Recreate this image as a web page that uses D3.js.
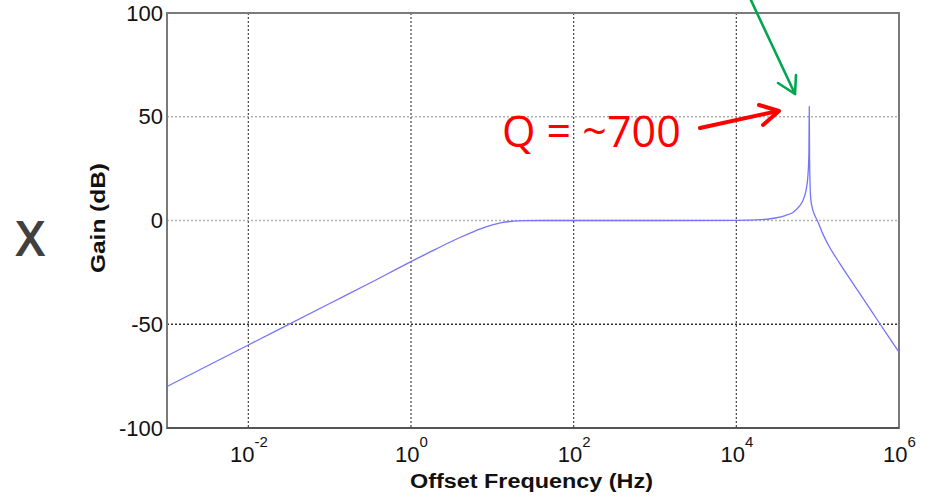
<!DOCTYPE html>
<html>
<head>
<meta charset="utf-8">
<script src="https://cdn.jsdelivr.net/npm/d3@7"></script>
<style>
  html, body { margin: 0; padding: 0; background: #fff; }
  svg { display: block; }
</style>
</head>
<body>
<svg id="chart" width="930" height="498"></svg>
<script>
// Frequency response: offset frequency (Hz) and gain (dB)
const freqHz = [
  1e-3, 1e-2, 1e-1, 0.3, 1, 1.5, 2, 3, 4, 6, 8, 10, 13, 18, 25, 40, 100, 1000,
  1e4, 2e4, 3e4, 4e4, 5e4, 6e4, 6.8e4, 7.3e4, 7.6e4, 7.8e4, 7.88e4, 7.95e4,
  8.2e4, 8.6e4, 9.2e4, 9.9e4, 1.15e5, 1.38e5, 1.84e5, 2.94e5, 4.7e5, 7.5e5, 1e6
];
const gainDb = [
  -80, -60, -40, -30.5, -19.8, -16.3, -13.9, -10.5, -8.2, -5.2, -3.3, -2.1, -1.0, -0.35, -0.08, 0, 0, 0,
  0.1, 0.4, 1.2, 2.4, 4, 7, 11, 16, 22, 32, 55, 30,
  11, 6, 2.5, 0, -6.2, -12.4, -20.3, -32.3, -44.3, -56.2, -63.4
];

// Axis ticks
const xTickExps = [-2, 0, 2, 4, 6];
const yTicks = [-100, -50, 0, 50, 100];

// Annotation text
const qLabel = "Q = ~700";
const sideLabel = "X";
const xTitle = "Offset Frequency (Hz)";
const yTitle = "Gain (dB)";

const svg = d3.select("#chart");
const plot = { left: 167, right: 899, top: 13, bottom: 428 };

const x = d3.scaleLog().domain([1e-3, 1e6]).range([plot.left, plot.right]);
const y = d3.scaleLinear().domain([-100, 100]).range([plot.bottom, plot.top]);

// Grid lines (dotted)
const grid = svg.append("g");
grid.selectAll("line.vx")
  .data(xTickExps.filter(e => e < 6))
  .join("line")
  .attr("x1", e => x(Math.pow(10, e))).attr("x2", e => x(Math.pow(10, e)))
  .attr("y1", plot.top).attr("y2", plot.bottom)
  .attr("stroke", "#444").attr("stroke-width", 1.2)
  .attr("stroke-dasharray", "2,2");
grid.selectAll("line.hy")
  .data(yTicks.filter(v => v > -100 && v < 100))
  .join("line")
  .attr("x1", plot.left).attr("x2", plot.right)
  .attr("y1", v => y(v)).attr("y2", v => y(v))
  .attr("stroke", v => v < 0 ? "#333" : "#b0b0b0").attr("stroke-width", 1.5)
  .attr("stroke-dasharray", "2,2");

// Frame
svg.append("rect")
  .attr("x", plot.left).attr("y", plot.top)
  .attr("width", plot.right - plot.left).attr("height", plot.bottom - plot.top)
  .attr("fill", "none").attr("stroke", "#7a7a7a").attr("stroke-width", 2);
svg.append("line")
  .attr("x1", plot.left).attr("x2", plot.right)
  .attr("y1", plot.bottom).attr("y2", plot.bottom)
  .attr("stroke", "#555").attr("stroke-width", 2);

// Y axis
const yAxis = d3.axisLeft(y).tickValues(yTicks).tickSize(0).tickPadding(4).tickFormat(d => String(d));
const gy = svg.append("g").attr("transform", `translate(${plot.left},0)`).call(yAxis);
gy.select(".domain").remove();
gy.selectAll("text")
  .attr("font-family", "'Liberation Sans', Arial, sans-serif")
  .attr("font-size", 22).attr("fill", "#111");

// X axis with power-of-ten labels
const xAxis = d3.axisBottom(x).tickValues(xTickExps.map(e => Math.pow(10, e))).tickSize(0).tickFormat(() => "");
const gx = svg.append("g").attr("transform", `translate(0,${plot.bottom})`).call(xAxis);
gx.select(".domain").remove();
gx.selectAll(".tick text").each(function(d) {
  const t = d3.select(this)
    .attr("y", 34).attr("dy", 0)
    .attr("text-anchor", "middle")
    .attr("font-family", "'Liberation Sans', Arial, sans-serif")
    .attr("fill", "#111");
  t.append("tspan").attr("font-size", 22).text("10");
  t.append("tspan").attr("font-size", 15).attr("dy", -15).text(String(Math.round(Math.log10(d))));
});

// Axis titles
svg.append("text")
  .attr("x", 410).attr("y", 488)
  .attr("font-family", "'Liberation Sans', Arial, sans-serif")
  .attr("font-weight", "bold").attr("font-size", 20)
  .attr("textLength", 243).attr("lengthAdjust", "spacingAndGlyphs")
  .attr("fill", "#111")
  .text(xTitle);
svg.append("text")
  .attr("transform", "translate(105,273) rotate(-90)")
  .attr("font-family", "'Liberation Sans', Arial, sans-serif")
  .attr("font-weight", "bold").attr("font-size", 20)
  .attr("textLength", 110).attr("lengthAdjust", "spacingAndGlyphs")
  .attr("fill", "#111")
  .text(yTitle);

// Response curve
const pts = freqHz.map((f, i) => [f, gainDb[i]]);
const line = d3.line().x(d => x(d[0])).y(d => y(d[1])).curve(d3.curveMonotoneX);
svg.append("path")
  .datum(pts)
  .attr("d", line)
  .attr("fill", "none")
  .attr("stroke", "#7474ff")
  .attr("stroke-width", 1.3);

// Side label
svg.append("text")
  .attr("x", 17).attr("y", 255)
  .attr("font-family", "'Open Sans', sans-serif")
  .attr("font-size", 46).attr("fill", "#404040")
  .attr("stroke", "#404040").attr("stroke-width", 2)
  .text(sideLabel);

// Q annotation and arrows
svg.append("text")
  .attr("x", 502).attr("y", 147)
  .attr("font-family", "'Open Sans', sans-serif")
  .attr("font-size", 43).attr("fill", "#ff0000")
  .text(qLabel);

const red = svg.append("g").attr("stroke", "#ff0000").attr("stroke-width", 4)
  .attr("fill", "none").attr("stroke-linecap", "round").attr("stroke-linejoin", "round");
red.append("line").attr("x1", 700).attr("y1", 128).attr("x2", 778).attr("y2", 111);
red.append("polyline").attr("points", "759,105 779,111 763,125");

const green = svg.append("g").attr("stroke", "#00a650").attr("stroke-width", 2.6)
  .attr("fill", "none").attr("stroke-linecap", "round").attr("stroke-linejoin", "round");
green.append("line").attr("x1", 749).attr("y1", -4).attr("x2", 795).attr("y2", 94);
green.append("polyline").attr("points", "778,83 795,94 796,75");
</script>
</body>
</html>
